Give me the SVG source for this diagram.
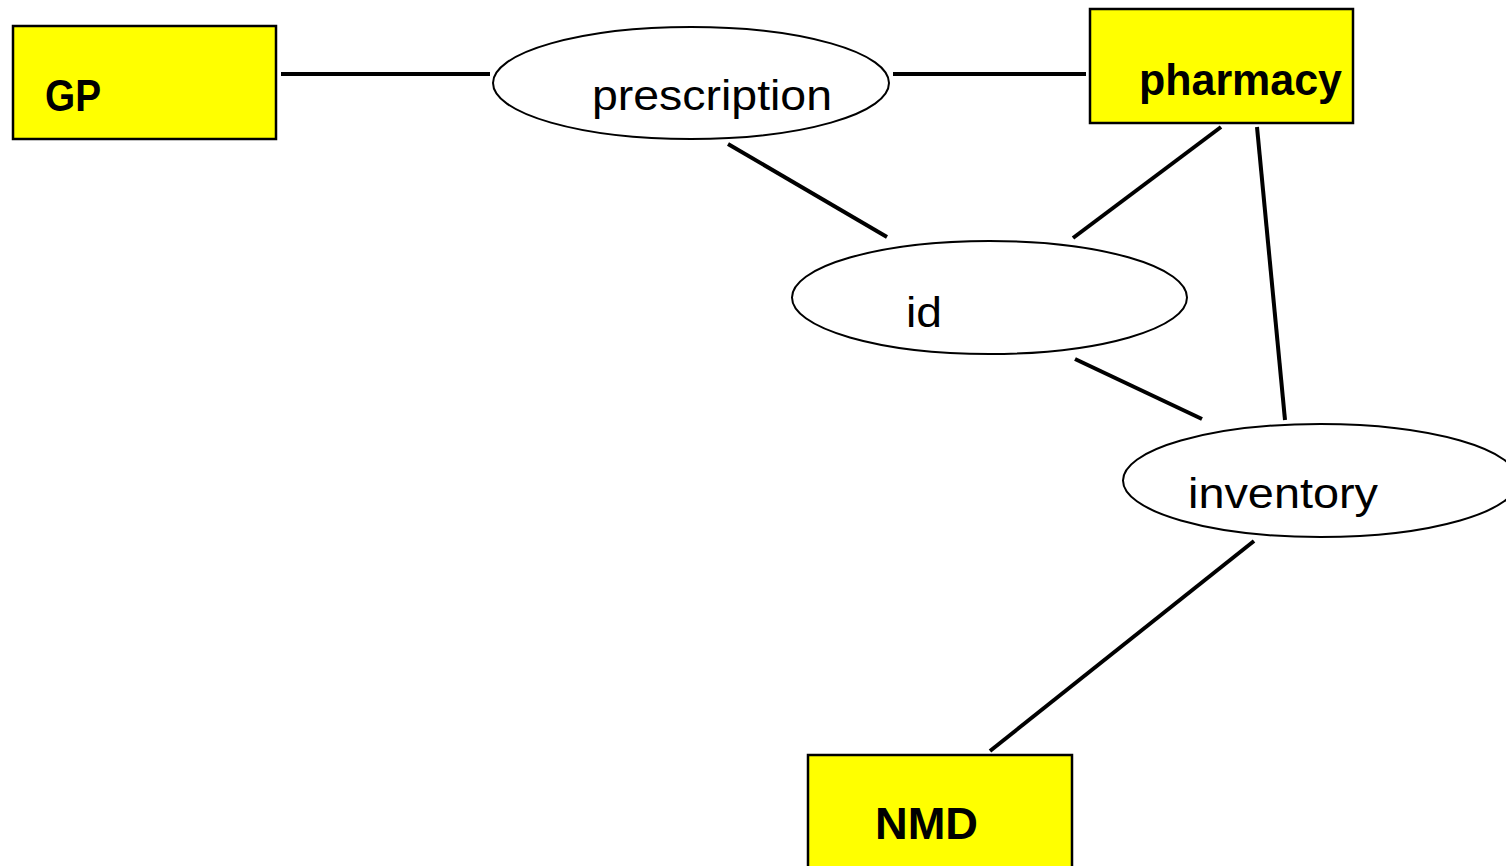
<svg xmlns="http://www.w3.org/2000/svg" width="1506" height="866" viewBox="0 0 1506 866">
<style>
.ent{fill:#FFFF00;stroke:#000;stroke-width:2.5}
.attr{fill:#fff;stroke:#000;stroke-width:2}
.bt{font-family:"Liberation Sans",Arial,sans-serif;font-weight:bold;font-size:44px;fill:#000}
.rt{font-family:"Liberation Sans",Arial,sans-serif;font-size:42px;fill:#000}
.conn line{stroke:#000;stroke-width:4}
</style>
<rect width="1506" height="866" fill="#fff"/>
<g class="conn" id="connectors">
<line x1="281" y1="74" x2="490" y2="74"/>
<line x1="893" y1="74" x2="1086" y2="74"/>
<line x1="728" y1="144" x2="887" y2="237"/>
<line x1="1221" y1="127" x2="1073" y2="238"/>
<line x1="1257" y1="127" x2="1285" y2="420"/>
<line x1="1075" y1="359" x2="1202" y2="419"/>
<line x1="1254" y1="541" x2="990" y2="751"/>
</g>
<g id="GP">
<rect class="ent" x="13" y="26" width="263" height="113"/>
<text class="bt" x="45" y="111" textLength="56" lengthAdjust="spacingAndGlyphs">GP</text>
</g>
<g id="pharmacy">
<rect class="ent" x="1090" y="9" width="263" height="114"/>
<text class="bt" x="1139" y="95" textLength="203" lengthAdjust="spacingAndGlyphs">pharmacy</text>
</g>
<g id="NMD">
<rect class="ent" x="808" y="755" width="264" height="116"/>
<text class="bt" x="875" y="839" textLength="103" lengthAdjust="spacingAndGlyphs">NMD</text>
</g>
<g id="prescription">
<ellipse class="attr" cx="691" cy="83" rx="198" ry="56"/>
<text class="rt" x="592" y="110" textLength="240" lengthAdjust="spacingAndGlyphs">prescription</text>
</g>
<g id="id">
<ellipse class="attr" cx="989.5" cy="297.5" rx="197.5" ry="56.5"/>
<text class="rt" x="906" y="327" textLength="36" lengthAdjust="spacingAndGlyphs">id</text>
</g>
<g id="inventory">
<ellipse class="attr" cx="1320.5" cy="480.5" rx="197.5" ry="56.5"/>
<text class="rt" x="1188" y="508" textLength="190" lengthAdjust="spacingAndGlyphs">inventory</text>
</g>
</svg>
